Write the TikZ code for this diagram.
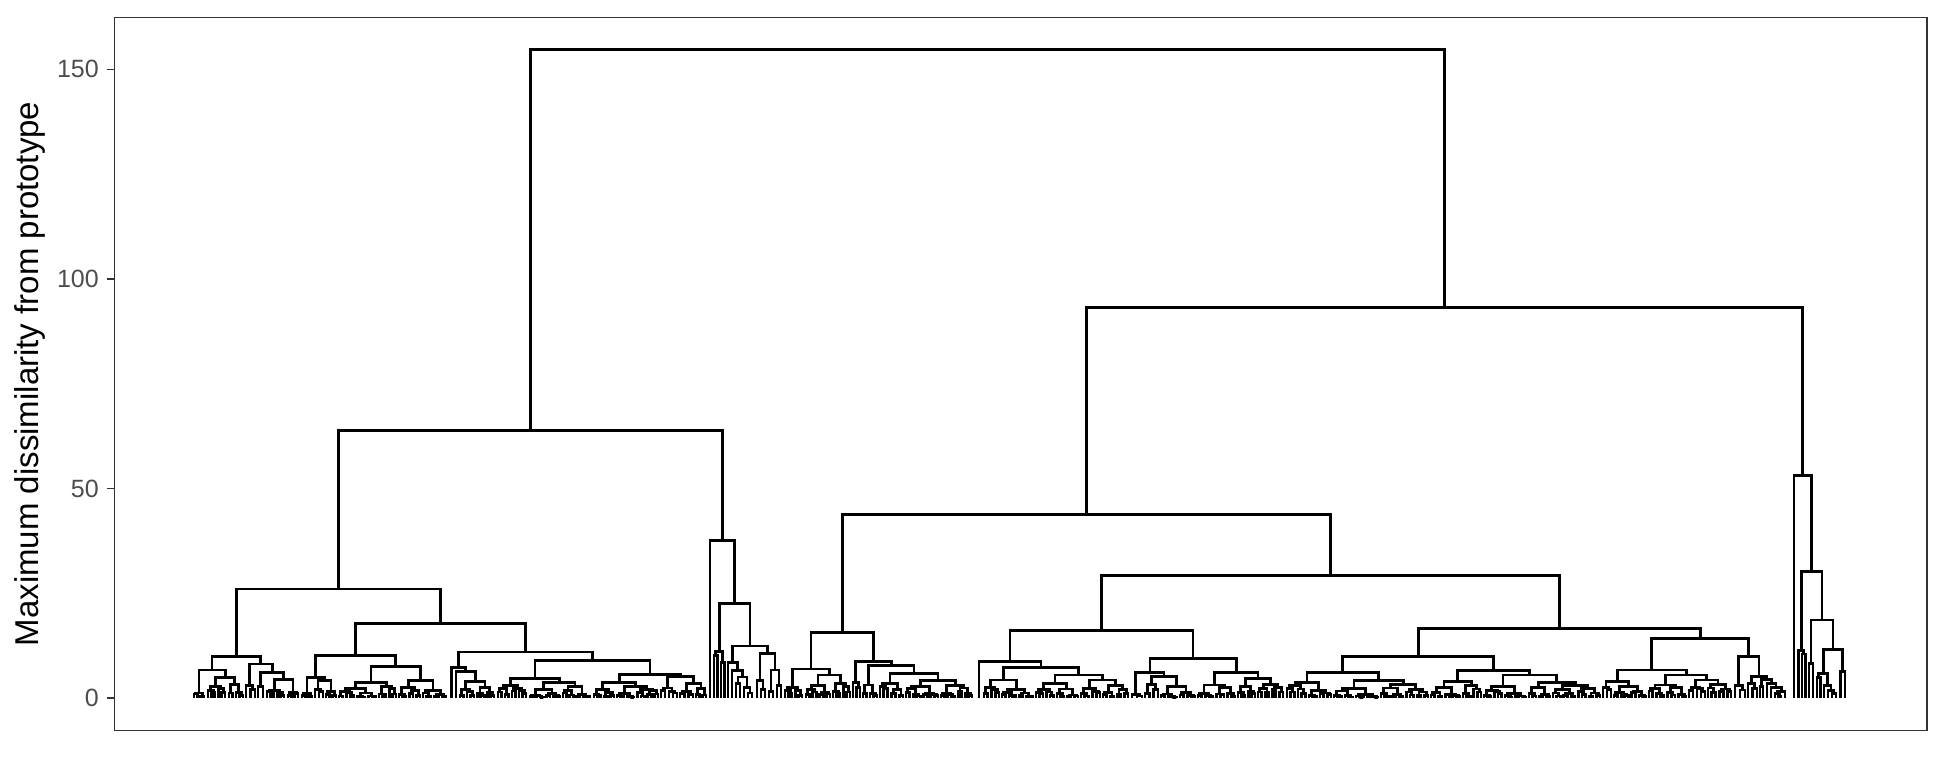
\documentclass[tikz,border=0pt]{standalone}
\usepackage{fontspec}
\setmainfont{Liberation Sans}
\definecolor{gtwenty}{RGB}{51,51,51}
\definecolor{gthirty}{RGB}{77,77,77}
\tikzset{dend/.style={line width=2.8pt, black, line join=miter},
  frame/.style={line width=1.4pt, gtwenty},
  tickmark/.style={line width=1.4pt, gtwenty},
  ticklab/.style={anchor=east, text=gthirty, inner sep=0pt, font=\fontsize{25}{30}\selectfont},
  axtitle/.style={rotate=90, inner sep=0pt, font=\fontsize{33}{39}\selectfont}}
% dendrogram helpers: leaf, merge, auto cluster
\newcommand\dLeaf[1]{\xdef\dRetX{#1}\xdef\dRetH{0}}
\newcommand\dMerge[3]{\begingroup #2\edef\dLx{\dRetX}\edef\dLh{\dRetH}#3\edef\dRx{\dRetX}\edef\dRh{\dRetH}%
  \draw[dend] (\dLx,\dLh) -- (\dLx,#1) -- (\dRx,#1) -- (\dRx,\dRh);%
  \pgfmathsetmacro\dTmp{(\dLx+\dRx)/2}\xdef\dRetX{\dTmp}\xdef\dRetH{#1}\endgroup}
\newcommand\dClus[4]{%
  \ifnum#3=1\relax \dLeaf{#1}%
  \else
  \begingroup
   \pgfmathtruncatemacro\cK{#3/2}%
   \pgfmathtruncatemacro\cKr{#3-\cK}%
   \pgfmathsetmacro\cS{(#2-#1)/(#3-1)}%
   \pgfmathsetmacro\cAe{#1+(\cK-1)*\cS}%
   \pgfmathsetmacro\cBs{#1+\cK*\cS}%
   \pgfmathsetmacro\cHa{#4*(0.3+0.55*rnd)}%
   \pgfmathsetmacro\cHb{#4*(0.3+0.55*rnd)}%
   \edef\cNext{\noexpand\dMerge{#4}{\noexpand\dClus{#1}{\cAe}{\cK}{\cHa}}{\noexpand\dClus{\cBs}{#2}{\cKr}{\cHb}}}%
   \expandafter\endgroup\cNext
  \fi}
% ---- tree ----
\def\tAone{\dMerge{6.7}{\dClus{194}{204}{4}{1.2}}{\dMerge{4.9}{\dClus{208}{225}{6}{2.7}}{\dClus{229}{243}{5}{3.3}}}}
\def\tAtwo{\dMerge{8.1}{\dClus{246}{255}{3}{2.9}}{\dMerge{6.0}{\dClus{258}{263}{2}{2.7}}{\dMerge{4.5}{\dClus{267}{284}{6}{1.8}}{\dClus{288}{298}{4}{1.3}}}}}
\def\tLLa{\dMerge{9.9}{\tAone}{\tAtwo}}
\def\tBonea{\dMerge{4.9}{\dClus{302}{312}{4}{1.0}}{\dMerge{4.1}{\dClus{315}{323}{3}{2.0}}{\dClus{326}{336}{4}{1.5}}}}
\def\tBoneb{\dMerge{7.6}{\dMerge{3.7}{\dClus{339}{376}{11}{2.2}}{\dClus{379}{396}{6}{2.8}}}{\dMerge{4.1}{\dClus{399}{420}{7}{2.5}}{\dClus{423}{446}{7}{1.8}}}}
\def\tBone{\dMerge{10.1}{\tBonea}{\tBoneb}}
\def\tBtwoa{\dMerge{7.3}{\dLeaf{451.5}}{\dMerge{6.3}{\dLeaf{456}}{\dMerge{3.9}{\dClus{460}{474}{5}{2.0}}{\dClus{477.5}{494}{6}{2.5}}}}}
\def\tBtwobone{\dMerge{4.7}{\dClus{498}{526}{9}{2.9}}{\dMerge{3.7}{\dClus{530}{560}{10}{2.0}}{\dClus{563}{590}{9}{2.8}}}}
\def\tBtwobtwo{\dMerge{5.7}{\dMerge{3.7}{\dClus{594}{614}{7}{2.0}}{\dClus{617}{658}{13}{2.7}}}{\dMerge{5.1}{\dClus{661}{677}{5}{2.4}}{\dMerge{3.5}{\dClus{680}{693}{4}{1.5}}{\dClus{696}{706}{4}{2.2}}}}}
\def\tBtwo{\dMerge{11.0}{\tBtwoa}{\dMerge{8.9}{\tBtwobone}{\tBtwobtwo}}}
\def\tLLb{\dMerge{17.7}{\tBone}{\tBtwo}}
\def\tLL{\dMerge{26.0}{\tLLa}{\tLLb}}
\def\tRRa{\dMerge{11.1}{\dMerge{10.2}{\dLeaf{714}}{\dLeaf{717.5}}}{\dMerge{8.5}{\dLeaf{721}}{\dLeaf{724.5}}}}
\def\tRRbone{\dMerge{8.4}{\dLeaf{728}}{\dMerge{6.6}{\dLeaf{732}}{\dMerge{5.0}{\dMerge{3.5}{\dLeaf{736}}{\dLeaf{740}}}{\dMerge{2.6}{\dLeaf{744}}{\dMerge{1.2}{\dLeaf{748}}{\dLeaf{752}}}}}}}
\def\tRRbtwo{\dMerge{10.7}{\dMerge{4.1}{\dLeaf{757}}{\dMerge{2.0}{\dLeaf{761}}{\dLeaf{765}}}}{\dMerge{6.7}{\dMerge{1.5}{\dLeaf{769}}{\dLeaf{773}}}{\dMerge{3.0}{\dLeaf{777}}{\dLeaf{781}}}}}
\def\tLR{\dMerge{37.6}{\dLeaf{710}}{\dMerge{22.6}{\tRRa}{\dMerge{12.4}{\tRRbone}{\tRRbtwo}}}}
\def\tL{\dMerge{63.9}{\tLL}{\tLR}}
\def\tRAone{\dMerge{15.7}{\dMerge{6.9}{\dClus{785}{802}{6}{2.6}}{\dMerge{5.5}{\dClus{806}{830}{8}{2.9}}{\dClus{833}{850}{6}{3.5}}}}{\dMerge{8.7}{\dClus{853}{860}{3}{3.7}}{\dMerge{7.7}{\dClus{863}{877}{5}{3.1}}{\dMerge{5.9}{\dClus{880}{903}{7}{3.5}}{\dMerge{4.1}{\dClus{906}{938}{10}{2.8}}{\dClus{941}{972}{10}{3.0}}}}}}}
\def\tRAtwoaone{\dMerge{8.7}{\dLeaf{979}}{\dMerge{7.2}{\dMerge{4.3}{\dClus{984}{999}{5}{2.5}}{\dClus{1002}{1033}{10}{2.0}}}{\dMerge{5.5}{\dClus{1036}{1078}{13}{3.5}}{\dMerge{4.3}{\dClus{1081}{1100}{6}{2.2}}{\dClus{1103}{1128}{8}{2.9}}}}}}
\def\tRAtwoatwo{\dMerge{9.5}{\dMerge{6.0}{\dClus{1132}{1142}{3}{0.8}}{\dMerge{5.1}{\dClus{1145}{1158}{4}{3.3}}{\dClus{1161}{1195}{10}{2.7}}}}{\dMerge{6.0}{\dClus{1198}{1235}{11}{3.1}}{\dMerge{4.7}{\dClus{1238}{1255}{6}{2.7}}{\dClus{1258}{1283}{8}{3.3}}}}}
\def\tRAtwoa{\dMerge{16.1}{\tRAtwoaone}{\tRAtwoatwo}}
\def\tRAtwobone{\dMerge{9.9}{\dMerge{6.0}{\dClus{1287}{1331}{13}{3.7}}{\dMerge{4.1}{\dClus{1334}{1378}{13}{2.3}}{\dClus{1381}{1428}{14}{3.3}}}}{\dMerge{6.5}{\dMerge{3.9}{\dClus{1431}{1460}{9}{2.5}}{\dClus{1463}{1481}{6}{2.9}}}{\dMerge{5.5}{\dClus{1484}{1526}{13}{2.7}}{\dMerge{3.7}{\dClus{1529}{1550}{7}{2.5}}{\dClus{1553}{1600}{14}{3.0}}}}}}
\def\tRAtwobtwo{\dMerge{14.2}{\dMerge{6.7}{\dMerge{3.9}{\dClus{1603}{1611}{3}{2.5}}{\dClus{1614}{1646}{10}{2.8}}}{\dMerge{5.5}{\dClus{1649}{1686}{11}{3.1}}{\dMerge{4.3}{\dClus{1689}{1705}{5}{2.6}}{\dClus{1708}{1731}{7}{3.2}}}}}{\dMerge{9.9}{\dClus{1735}{1745}{3}{3.0}}{\dMerge{5.1}{\dClus{1748}{1757}{3}{3.5}}{\dMerge{4.5}{\dClus{1760}{1763}{2}{2.8}}{\dMerge{3.5}{\dLeaf{1767}}{\dMerge{2.6}{\dLeaf{1771}}{\dMerge{1.5}{\dClus{1775}{1781}{3}{1.0}}{\dLeaf{1785}}}}}}}}}
\def\tRAtwob{\dMerge{16.5}{\tRAtwobone}{\tRAtwobtwo}}
\def\tRA{\dMerge{43.8}{\tRAone}{\dMerge{29.3}{\tRAtwoa}{\tRAtwob}}}
\def\tRB{\dMerge{53.0}{\dLeaf{1794}}{\dMerge{30.2}{\dMerge{11.3}{\dLeaf{1798.5}}{\dMerge{10.5}{\dLeaf{1802}}{\dLeaf{1805.5}}}}{\dMerge{18.6}{\dMerge{8.3}{\dLeaf{1809}}{\dLeaf{1813}}}{\dMerge{11.6}{\dMerge{5.9}{\dMerge{4.8}{\dLeaf{1817}}{\dLeaf{1820.5}}}{\dMerge{3.0}{\dLeaf{1824}}{\dMerge{1.8}{\dLeaf{1828}}{\dMerge{1.0}{\dLeaf{1832}}{\dLeaf{1836}}}}}}{\dMerge{6.3}{\dLeaf{1840.5}}{\dLeaf{1845}}}}}}}
\def\tR{\dMerge{93.2}{\tRA}{\tRB}}
\def\tRoot{\dMerge{154.7}{\tL}{\tR}}
\begin{document}
\begin{tikzpicture}[x=1pt,y=1pt]
\pgfmathsetseed{7}
\useasboundingbox (0,0) rectangle (1944,756);
\draw[frame] (114.5,25.6) rectangle (1927,738.6);
\foreach \v/\nm in {0/tz,50/tf,100/th,150/thf}{
  \coordinate (tk\nm) at (114.5,{58+4.191*\v});
  \draw[tickmark] (106.5,{58+4.191*\v}) -- (tk\nm);
  \node[ticklab] (lab\nm) at (99,{58+4.191*\v}) {\v};
}
\node[axtitle] (ytitle) at (30,382.1) {Maximum dissimilarity from prototype};
\begin{scope}[yshift=58pt, y=4.191pt]
\tRoot
\end{scope}
\end{tikzpicture}
\end{document}
